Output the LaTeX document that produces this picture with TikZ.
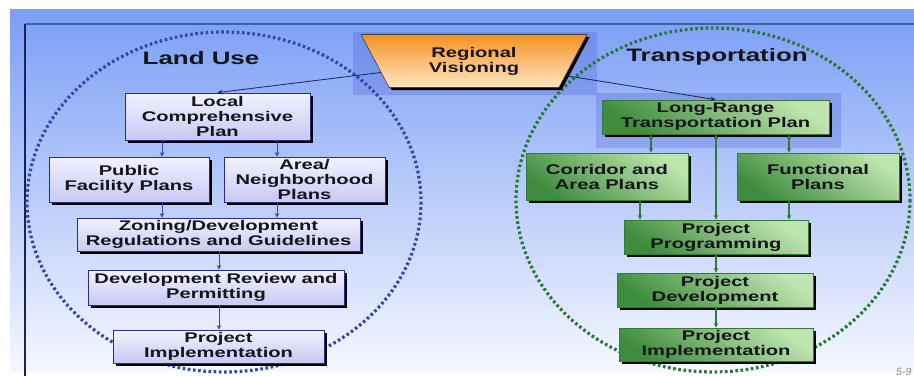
\documentclass[tikz,border=0pt]{standalone}
\usepackage{fontspec}
\setmainfont{Liberation Sans}
\newfontfamily\wb{Liberation Sans}[FakeStretch=1.44]
\usetikzlibrary{shapes.geometric,shadows,arrows.meta}
\definecolor{bgtop}{RGB}{122,158,246}
\definecolor{bgmid}{RGB}{175,198,250}
\definecolor{bgbot}{RGB}{246,248,255}
\definecolor{hl}{RGB}{50,70,205}
\definecolor{navy}{RGB}{40,45,130}
\definecolor{luline}{RGB}{60,70,165}
\definecolor{lavtop}{RGB}{242,242,255}
\definecolor{lavbot}{RGB}{200,200,244}
\definecolor{gtop}{RGB}{190,228,175}
\definecolor{gmid}{RGB}{160,210,145}
\definecolor{gbot}{RGB}{62,140,62}
\definecolor{gline}{RGB}{50,122,55}
\definecolor{gdot}{RGB}{40,120,50}
\definecolor{bdot}{RGB}{55,70,165}
\definecolor{otop}{RGB}{245,145,35}
\definecolor{obot}{RGB}{255,230,195}
\definecolor{hline}{RGB}{70,95,170}
\definecolor{vline}{RGB}{25,35,90}
\definecolor{txt}{RGB}{20,20,25}
\begin{document}
\begin{tikzpicture}[x=1pt,y=-1pt,
  boxfont/.style={font=\wb\bfseries\fontsize{14}{15}\selectfont, text=txt, align=center, inner sep=0pt},
  shad/.style={drop shadow={shadow xshift=2.6pt, shadow yshift=-2.6pt, fill=black, opacity=1}},
  lubox/.style={boxfont, draw=navy, line width=0.8pt, top color=lavtop, bottom color=lavbot, shad},
  gbox/.style={boxfont, draw=gline, line width=0.8pt, top color=gtop, middle color=gmid, bottom color=gbot, shading angle=-35, shad},
  title/.style={font=\wb\bfseries\fontsize{18}{20}\selectfont, text=txt, inner sep=0pt},
  luarr/.style={draw=luline, line width=0.9pt, -{Stealth[length=4.5pt,width=4.5pt]}},
  garr/.style={draw=gline, line width=1.1pt, -{Stealth[length=4.5pt,width=4.5pt]}},
  gdarr/.style={draw=gline, line width=1.1pt, {Stealth[length=4.5pt,width=4.5pt]}-{Stealth[length=4.5pt,width=4.5pt]}},
  rvarr/.style={draw=vline, line width=0.8pt, -{Stealth[length=5pt,width=4.5pt]}},
  dots/.style={line width=3.2pt, dash pattern=on 2.6pt off 2.6pt}
]
\useasboundingbox (0,0) rectangle (914,376);
\fill[white] (0,0) rectangle (914,376);
\shade[top color=bgtop, middle color=bgmid, bottom color=bgbot] (10,9) rectangle (914,371);
% highlight
\fill[hl, fill opacity=0.22] (353,32) -- (597,32) -- (597,93) -- (841,93) -- (841,148) -- (596,148) -- (596,95) -- (353,95) -- cycle;
% frame lines
\draw[hline, line width=1.2pt] (25,24) -- (914,24);
\draw[vline, line width=1.2pt] (25,24) -- (25,376);
% dotted circles
\draw[bdot, dots] (224,202) ellipse [x radius=197, y radius=170];
\draw[gdot, dots] (713,200) ellipse [x radius=197, y radius=172];
% titles
\node[title] (lu) at (201,58) {Land Use};
\node[title] (tr) at (717,57) {Transportation};
% regional visioning
\node[boxfont, trapezium, shape border rotate=180, trapezium angle=45, trapezium stretches body,
  minimum width=226, minimum height=53, top color=otop, bottom color=obot, draw=black!75, line width=0.6pt, shad] (rv) at (474,61) {Regional\\Visioning};
% land use boxes
\node[lubox, minimum width=185, minimum height=47] (lcp) at (217.5,116.5) {Local\\Comprehensive\\Plan};
\node[lubox, minimum width=160, minimum height=45] (pf) at (129,179.5) {Public\\Facility Plans};
\node[lubox, minimum width=161, minimum height=45] (an) at (304.5,179.5) {Area/\\Neighborhood\\Plans};
\node[lubox, minimum width=283, minimum height=33] (zo) at (218.5,234.5) {Zoning/Development\\Regulations and Guidelines};
\node[lubox, minimum width=256, minimum height=35] (dr) at (216,287.5) {Development Review and\\Permitting};
\node[lubox, minimum width=211, minimum height=33] (pi) at (218.5,346.5) {Project\\Implementation};
% transportation boxes
\node[gbox, minimum width=227, minimum height=34] (lrtp) at (715.5,117) {Long-Range\\Transportation Plan};
\node[gbox, minimum width=162, minimum height=47] (ca) at (607,176.5) {Corridor and\\Area Plans};
\node[gbox, minimum width=162, minimum height=47] (fp) at (818,176.5) {Functional\\Plans};
\node[gbox, minimum width=184, minimum height=34] (pp) at (716,237) {Project\\Programming};
\node[gbox, minimum width=196, minimum height=34] (pd) at (715,290) {Project\\Development};
\node[gbox, minimum width=194, minimum height=33] (pit) at (716,344.5) {Project\\Implementation};
% connectors from regional visioning
\draw[rvarr] (rv) -- (lcp.north);
\draw[rvarr] (rv) -- (lrtp.north);
% land use connectors
\draw[luarr] (lcp.south -| 162,0) -- (pf.north -| 162,0);
\draw[luarr] (lcp.south -| 277,0) -- (an.north -| 277,0);
\draw[luarr] (pf.south -| 162,0) -- (zo.north -| 162,0);
\draw[luarr] (an.south -| 277,0) -- (zo.north -| 277,0);
\draw[luarr] (zo.south -| 219,0) -- (dr.north -| 219,0);
\draw[luarr] (dr.south -| 219,0) -- (pi.north -| 219,0);
% transportation connectors
\draw[gdarr] (lrtp.south -| 651,0) -- (ca.north -| 651,0);
\draw[gdarr] (lrtp.south -| 789,0) -- (fp.north -| 789,0);
\draw[gdarr] (lrtp.south -| 716,0) -- (pp.north -| 716,0);
\draw[garr] (ca.south -| 640,0) -- (pp.north -| 640,0);
\draw[garr] (fp.south -| 789,0) -- (pp.north -| 789,0);
\draw[garr] (pp.south -| 716,0) -- (pd.north -| 716,0);
\draw[garr] (pd.south -| 716,0) -- (pit.north -| 716,0);
% page number
\node[font=\itshape\fontsize{10.5}{10.5}\selectfont, text=black!45, anchor=base west, inner sep=0pt] (pg) at (896,375.5) {5-9};
\end{tikzpicture}
\end{document}
